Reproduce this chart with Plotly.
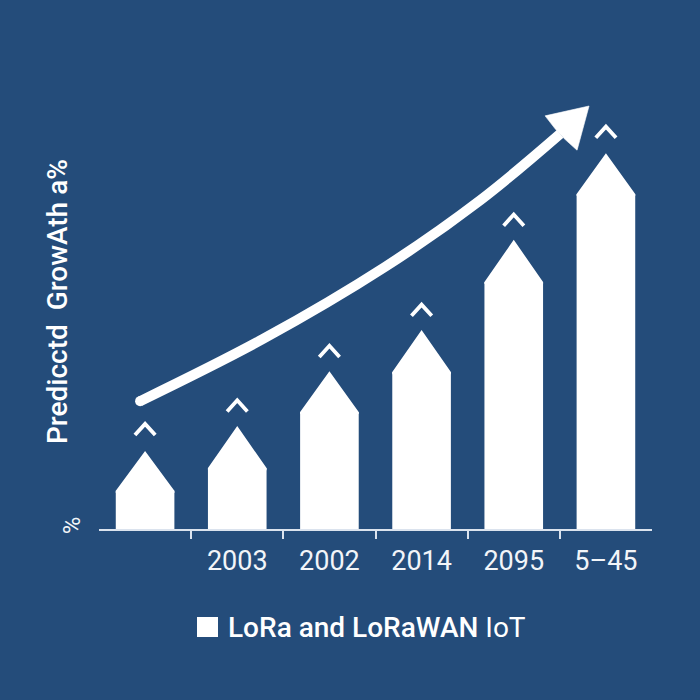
import plotly.graph_objects as go

BG = "#244c7a"
WHITE = "#ffffff"
AXIS = "#dbe3ee"

positions = [0, 1, 2, 3, 4, 5]
tick_labels = ["", "2003", "2002", "2014", "2095", "5–45"]
boundaries = [0.5, 1.5, 2.5, 3.5, 4.5]
shoulder_values = [8.9, 14.2, 27.3, 36.6, 57.6, 78.1]
tip_values = [18.2, 24.0, 36.8, 46.4, 67.4, 87.6]
chevron_values = [24.5, 30.0, 42.7, 52.3, 73.3, 93.8]
trend_x = [-0.054, 1.28, 2.604, 3.64, 4.503]
trend_y = [29.8, 44.3, 61.1, 76.7, 92.1]
arrow_x = [4.817, 4.34, 4.449, 4.547, 4.687, 4.817]
arrow_y = [98.6, 96.3, 93.3, 91.0, 88.3, 98.6]

BAR_HALF = 0.318
CHEV_HALF = 0.11
CHEV_DROP = 2.6
OVERLAP = 0.5

roof_x, roof_y, chev_x, chev_y = [], [], [], []
for p, s, t, c in zip(positions, shoulder_values, tip_values, chevron_values):
    roof_x += [p - BAR_HALF, p - BAR_HALF, p, p + BAR_HALF, p + BAR_HALF, p - BAR_HALF, None]
    roof_y += [s - OVERLAP, s, t, s, s - OVERLAP, s - OVERLAP, None]
    chev_x += [p - CHEV_HALF, p, p + CHEV_HALF, None]
    chev_y += [c - CHEV_DROP, c, c - CHEV_DROP, None]

fig = go.Figure()
fig.add_bar(x=positions, y=shoulder_values, width=2 * BAR_HALF,
            marker=dict(color=WHITE, line=dict(width=0)), showlegend=False)
fig.add_scatter(x=roof_x, y=roof_y, mode="lines", fill="toself", fillcolor=WHITE,
                line=dict(color=WHITE, width=0), showlegend=False)
fig.add_scatter(x=chev_x, y=chev_y, mode="lines",
                line=dict(color=WHITE, width=3.8), showlegend=False)
fig.add_scatter(x=trend_x, y=trend_y, mode="lines",
                line=dict(color=WHITE, width=10, shape="spline", smoothing=1.0), showlegend=False)
fig.add_scatter(x=trend_x[:1], y=trend_y[:1], mode="markers",
                marker=dict(color=WHITE, size=10), showlegend=False)
fig.add_scatter(x=arrow_x, y=arrow_y, mode="lines", fill="toself", fillcolor=WHITE,
                line=dict(color=WHITE, width=0.6), showlegend=False)
# carries the centred year labels; the main x axis carries the ticks between bars
fig.add_scatter(x=positions, y=[0] * 6, xaxis="x2", mode="markers",
                marker=dict(opacity=0), showlegend=False, hoverinfo="skip")

fig.update_layout(
    width=700, height=700, margin=dict(l=99, r=48, t=100, b=171),
    paper_bgcolor=BG, plot_bgcolor=BG,
    font=dict(family="Roboto", color=WHITE),
    xaxis=dict(range=[-0.5, 5.5], tickvals=boundaries, ticktext=[""] * 5,
               ticks="outside", ticklen=8, tickwidth=2, tickcolor=AXIS,
               showgrid=False, zeroline=False, showline=True, linecolor=AXIS, linewidth=2),
    xaxis2=dict(range=[-0.5, 5.5], overlaying="x", side="bottom", anchor="y",
                tickvals=positions, ticktext=tick_labels, ticks="", showline=False,
                showgrid=False, zeroline=False, ticklabelstandoff=13,
                tickfont=dict(size=27, color="#f2f5f9")),
    yaxis=dict(range=[0, 100], tickvals=[0], ticktext=["%"], tickangle=-90,
               ticks="", showgrid=False, zeroline=False, showline=False,
               tickfont=dict(size=24, color="#f2f5f9"), ticklabelstandoff=13),
    annotations=[
        dict(xref="paper", yref="paper", x=(226 - 99) / 553, y=(529 - 627) / 429,
             xanchor="left", yanchor="middle", showarrow=False,
             text='<span style="font-weight:500">LoRa and LoRaWAN</span> IoT',
             font=dict(size=28, color=WHITE)),
        dict(xref="paper", yref="paper", x=(57 - 99) / 553, y=(529 - 302) / 429,
             xanchor="center", yanchor="middle", showarrow=False, textangle=-90,
             text="Predicctd  GrowAth a%",
             font=dict(size=28, weight=500, color=WHITE)),
    ],
    shapes=[dict(type="rect", xref="paper", yref="paper",
                 x0=(197 - 99) / 553, x1=(218 - 99) / 553,
                 y0=(529 - 637) / 429, y1=(529 - 617) / 429,
                 fillcolor=WHITE, line=dict(width=0))],
    hovermode=False,
)
fig.write_html("out.html", config=dict(displayModeBar=False),
               post_script="document.body.style.margin='0';")
